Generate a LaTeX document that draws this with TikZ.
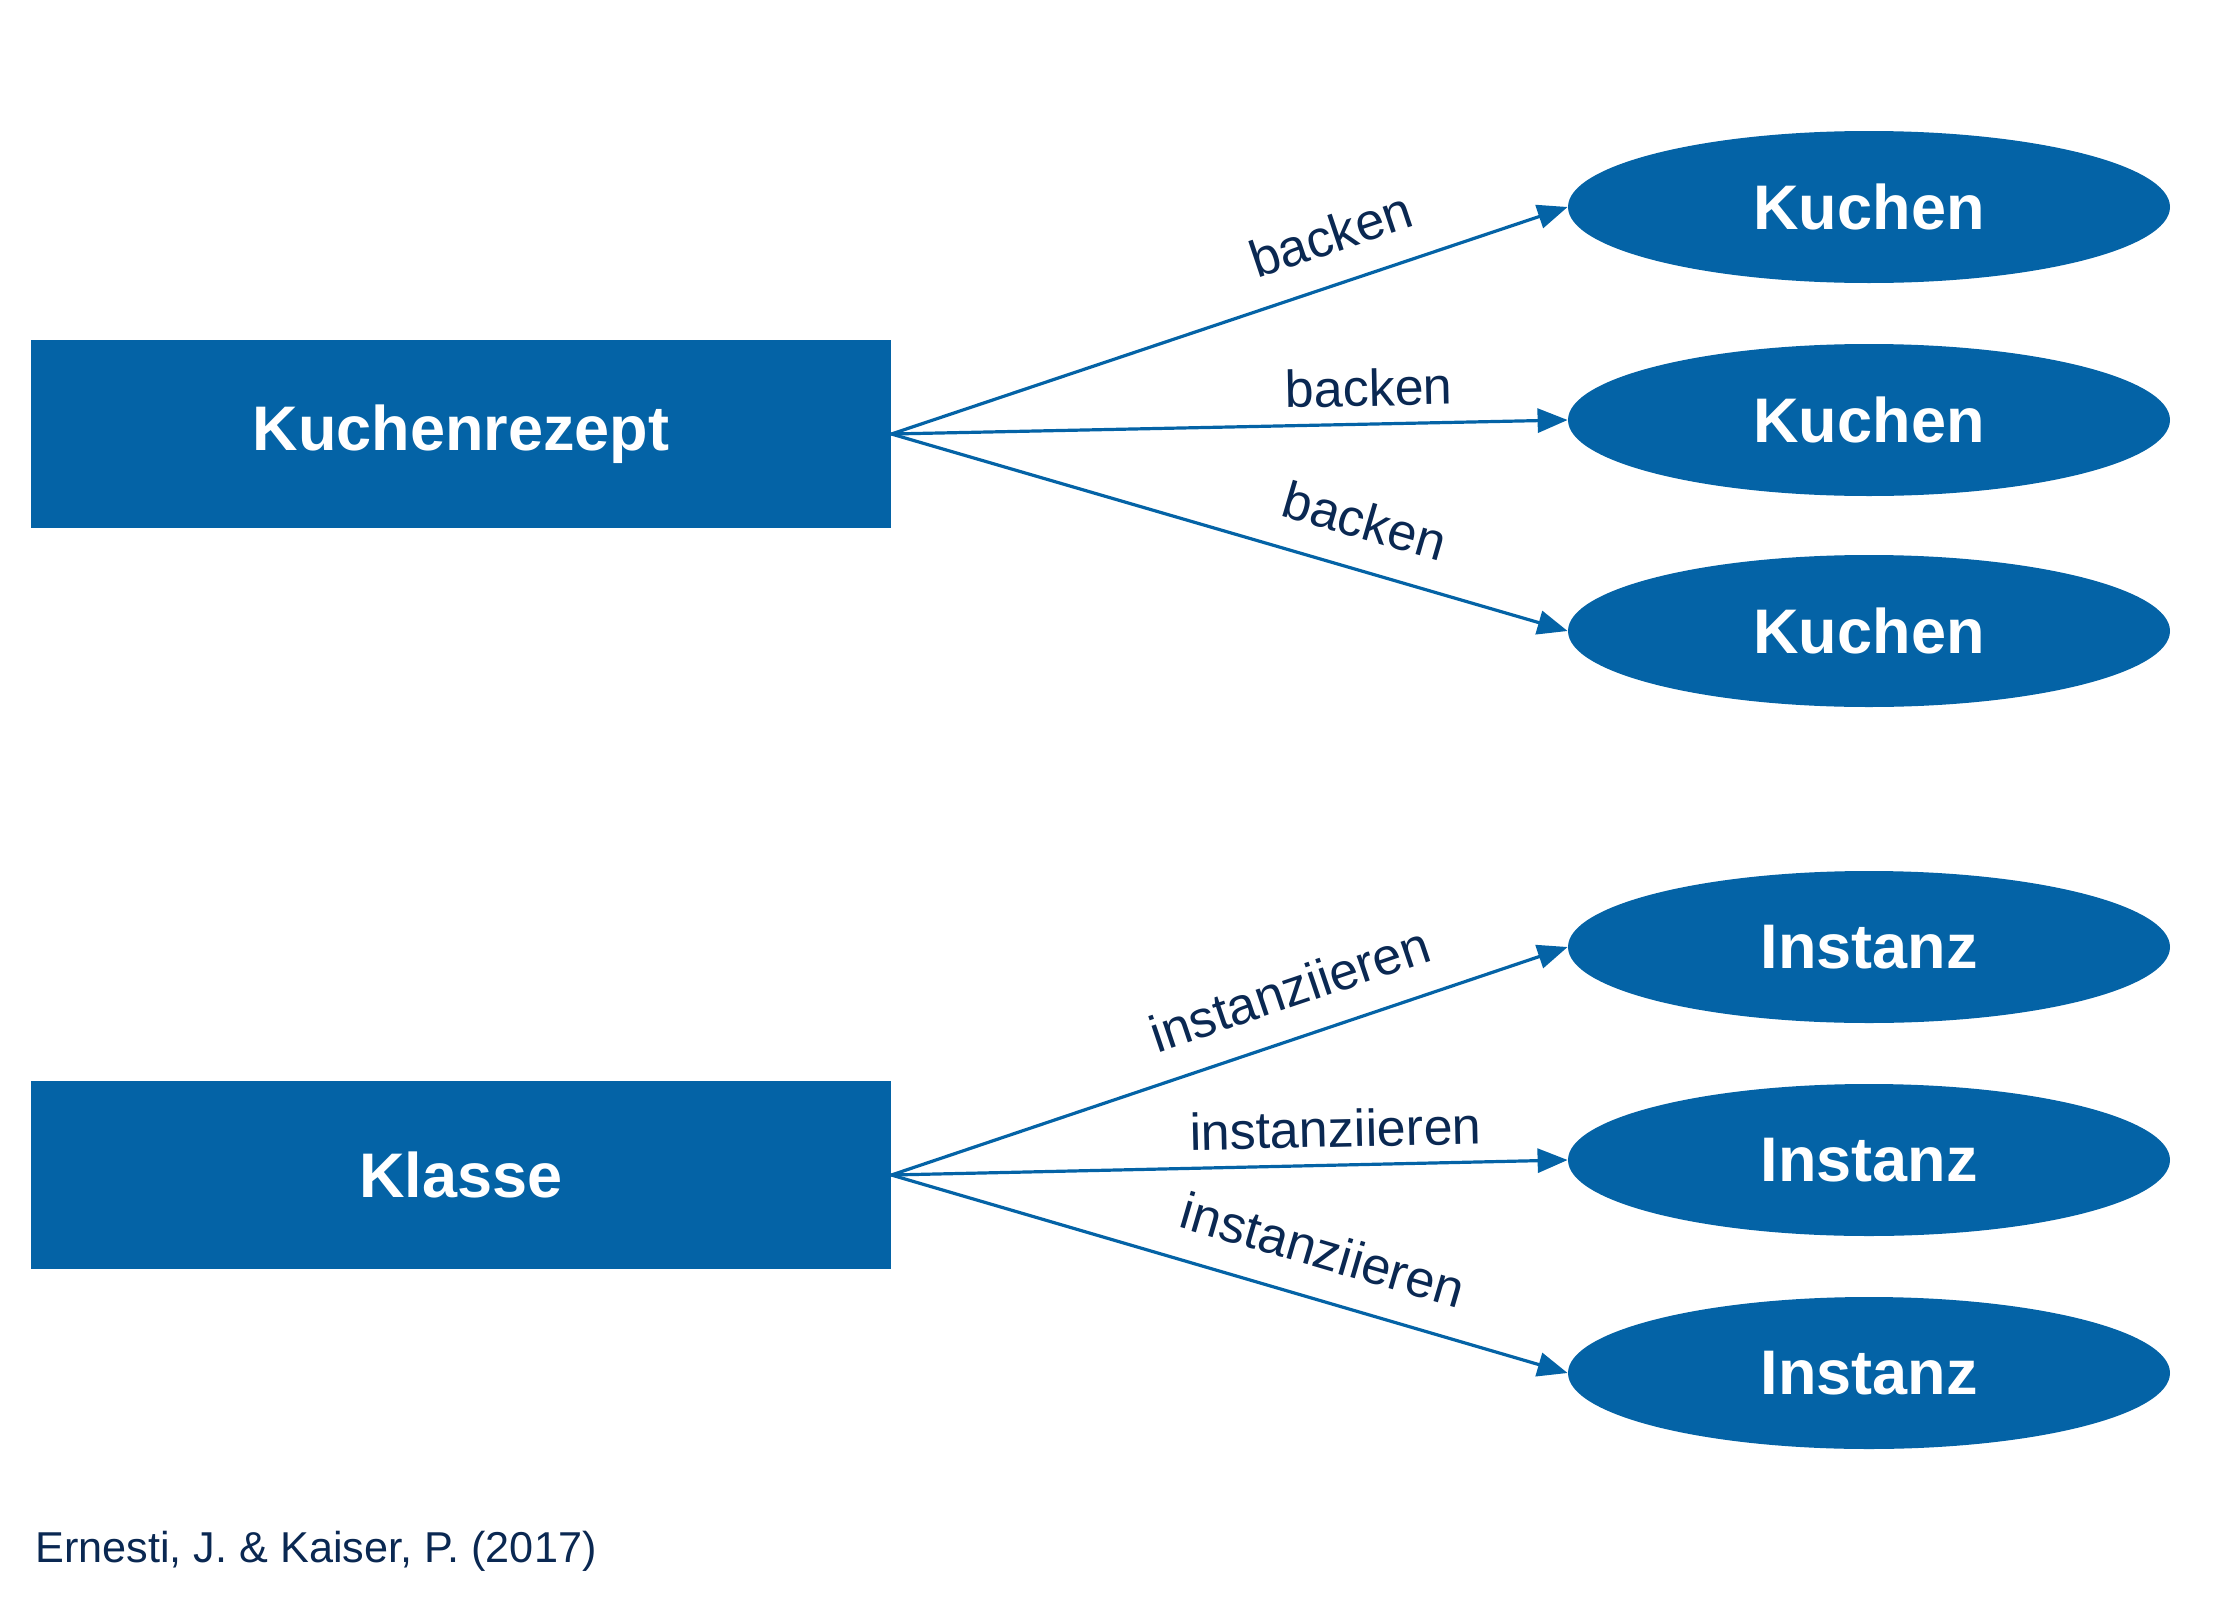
\documentclass[tikz,border=0pt]{standalone}
\usepackage{fontspec}
\setmainfont{Liberation Sans}
\usetikzlibrary{shapes.geometric,arrows.meta}
\definecolor{boxblue}{RGB}{4,99,166}
\definecolor{navy}{RGB}{10,40,82}
\tikzset{
  classbox/.style={rectangle, fill=boxblue, text=white, minimum width=430pt, minimum height=94pt, inner sep=0pt, font=\fontsize{31.5}{36}\selectfont\bfseries},
  objell/.style={ellipse, fill=boxblue, text=white, minimum width=301pt, minimum height=76pt, inner sep=0pt, font=\fontsize{31.5}{36}\selectfont\bfseries},
  conn/.style={draw=boxblue, line width=1.6pt, -{Triangle[length=15pt,width=12pt]}},
  lbl/.style={sloped, above=5pt, inner sep=3pt, text=navy, font=\fontsize{26}{30}\selectfont},
  lblhi/.style={lbl, above=6.3pt}
}
\begin{document}
\begin{tikzpicture}[x=0.5pt,y=-0.5pt]
\useasboundingbox (0,0) rectangle (2224,1606);
\node[classbox] (rezept) at (461,434) {Kuchenrezept};
\node[classbox] (klasse) at (461,1175) {Klasse};
\node[objell] (k1) at (1869,207) {Kuchen};
\node[objell] (k2) at (1869,420) {Kuchen};
\node[objell] (k3) at (1869,631) {Kuchen};
\node[objell] (i1) at (1869,947) {Instanz};
\node[objell] (i2) at (1869,1160) {Instanz};
\node[objell] (i3) at (1869,1373) {Instanz};
\draw[conn] (rezept.east) -- node[lblhi, pos=0.673] {backen} (k1.west);
\draw[conn] (rezept.east) -- node[lbl, pos=0.707] {backen} (k2.west);
\draw[conn] (rezept.east) -- node[lblhi, pos=0.68] {backen} (k3.west);
\draw[conn] (klasse.east) -- node[lblhi, pos=0.612] {instanziieren} (i1.west);
\draw[conn] (klasse.east) -- node[lbl, pos=0.658] {instanziieren} (i2.west);
\draw[conn] (klasse.east) -- node[lblhi, pos=0.618] {instanziieren} (i3.west);
\node[anchor=base west, inner sep=0pt, text=navy, font=\fontsize{21.6}{25}\selectfont] (cite) at (35,1562) {Ernesti, J. \& Kaiser, P. (2017)};
\end{tikzpicture}
\end{document}
